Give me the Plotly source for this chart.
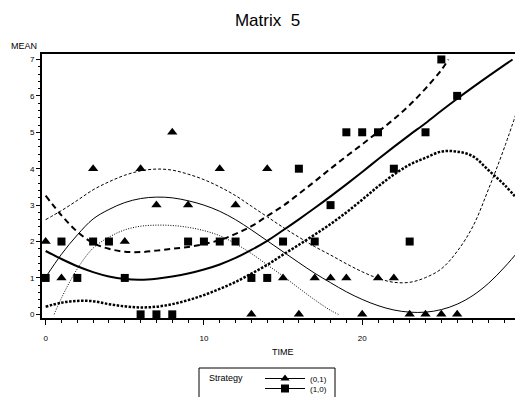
import plotly.graph_objects as go

# ---- data ----
# Strategy (0,1): triangles (visible points)
tri_t = [0, 1, 3, 5, 6, 7, 8, 9, 11, 12, 13, 14, 15, 16, 17, 18, 19, 20, 21, 22, 23, 24, 25, 26]
tri_y = [2, 1, 4, 2, 4, 3, 5, 3, 4, 3, 0, 4, 1, 0, 1, 1, 1, 0, 1, 1, 0, 0, 0, 0]

# Strategy (1,0): squares
sq_t = list(range(0, 27))
sq_y = [1, 2, 1, 2, 2, 1, 0, 0, 0, 2, 2, 2, 2, 1, 1, 2, 4, 2, 3, 5, 5, 5, 4, 2, 5, 7, 6]

# fitted curves
grid = list(range(0, 31))
tri_mean = [1.02, 1.65, 2.18, 2.62, 2.88, 3.07, 3.18, 3.22, 3.20, 3.12, 3.00, 2.83, 2.60, 2.32,
            2.02, 1.72, 1.42, 1.13, 0.87, 0.62, 0.41, 0.24, 0.12, 0.06, 0.06, 0.13, 0.28, 0.52,
            0.86, 1.30, 1.80]
tri_upper = [2.60, 2.85, 3.13, 3.42, 3.64, 3.82, 3.94, 3.99, 3.96, 3.85, 3.70, 3.50, 3.26, 2.97,
             2.68, 2.39, 2.12, 1.86, 1.63, 1.39, 1.17, 0.99, 0.88, 0.88, 1.01, 1.25, 1.73, 2.42,
             3.46, 4.60, 5.88]
tri_lower_t = [0.54, 1, 2, 3, 4, 5, 6, 7, 8, 9, 10, 11, 12, 13, 14, 15, 16, 17, 18, 18.5]
tri_lower = [0.0, 0.45, 1.25, 1.82, 2.12, 2.32, 2.42, 2.45, 2.44, 2.39, 2.30, 2.16, 1.94, 1.67,
             1.36, 1.05, 0.72, 0.40, 0.11, 0.0]

sq_mean_t = list(range(0, 30)) + [29.5]
sq_mean = [1.74, 1.52, 1.32, 1.16, 1.04, 0.97, 0.95, 0.98, 1.04, 1.12, 1.23, 1.37, 1.55, 1.77,
           2.02, 2.31, 2.61, 2.92, 3.24, 3.57, 3.91, 4.26, 4.60, 4.93, 5.25, 5.59, 5.92, 6.24,
           6.55, 6.85, 7.0]
sq_upper_t = list(range(0, 26)) + [25.45]
sq_upper = [3.26, 2.72, 2.27, 1.96, 1.80, 1.72, 1.71, 1.75, 1.80, 1.85, 1.93, 2.04, 2.21, 2.42,
            2.70, 2.98, 3.31, 3.65, 4.00, 4.34, 4.67, 5.01, 5.36, 5.75, 6.20, 6.71, 7.0]
sq_lower = [0.21, 0.32, 0.37, 0.36, 0.28, 0.22, 0.19, 0.21, 0.28, 0.39, 0.53, 0.70, 0.89, 1.12,
            1.36, 1.64, 1.91, 2.19, 2.48, 2.80, 3.15, 3.51, 3.84, 4.11, 4.30, 4.47, 4.47, 4.34,
            3.95, 3.55, 3.07]

x_ticks = [0, 10, 20, 30]
y_ticks = [0, 1, 2, 3, 4, 5, 6, 7]
legend_names = ["(0,1)", "(1,0)"]

FONT = "Liberation Sans, Arial, Helvetica, sans-serif"
BLACK = "#000000"
W, H = 523, 397
OFF = 8  # page body margin: the figure sits 8px right/down in the window
PL, PT, PR, PB = 42, 54, 523, 318  # plot area in window pixels


def px_paper_x(px):
    return (px - PL) / (PR - PL)


def px_paper_y(py):
    return (PB - py) / (PB - PT)


fig = go.Figure()


def curve(x, y, width, dash):
    fig.add_trace(go.Scatter(x=x, y=y, mode="lines", line=dict(color=BLACK, width=width, dash=dash,
                             shape="spline", smoothing=1.0), hoverinfo="skip", showlegend=False))


# thin curves: strategy (0,1)
curve(grid, tri_mean, 1, "solid")
curve(grid, tri_upper, 1, "3px,2px")
curve(tri_lower_t, tri_lower, 1, "1px,1.5px")
# thick curves: strategy (1,0)
curve(sq_mean_t, sq_mean, 2, "solid")
curve(sq_upper_t, sq_upper, 2, "6px,4px")
curve(grid, sq_lower, 2.5, "2.5px,1.5px")

fig.add_trace(go.Scatter(x=tri_t, y=tri_y, mode="markers", cliponaxis=False, showlegend=False,
                         marker=dict(symbol="triangle-up", size=9, color=BLACK)))
fig.add_trace(go.Scatter(x=sq_t, y=sq_y, mode="markers", cliponaxis=False, showlegend=False,
                         marker=dict(symbol="square", size=8, color=BLACK)))

# legend entries (one legend per row, so rows can sit as close as in the reference)
fig.add_trace(go.Scatter(x=[None], y=[None], mode="lines+markers", name=legend_names[0],
                         legend="legend", line=dict(color=BLACK, width=1),
                         marker=dict(symbol="triangle-up", size=8, color=BLACK)))
fig.add_trace(go.Scatter(x=[None], y=[None], mode="lines+markers", name=legend_names[1],
                         legend="legend2", line=dict(color=BLACK, width=1),
                         marker=dict(symbol="square", size=8, color=BLACK)))

leg_common = dict(xref="container", yref="container", xanchor="left", yanchor="top",
                  orientation="v", borderwidth=0, bgcolor="rgba(0,0,0,0)",
                  font=dict(family=FONT, size=8, color=BLACK), itemwidth=40)

fig.update_layout(
    width=W, height=H,
    margin=dict(l=PL - OFF, r=OFF, t=PT - OFF, b=H - (PB - OFF), autoexpand=False),
    paper_bgcolor="white", plot_bgcolor="white",
    font=dict(family=FONT, size=8, color=BLACK),
    title=dict(text="Matrix\u00a0 5", x=(267.5 - OFF) / W, xref="container", xanchor="center",
               y=1 - (20 - OFF) / H, yref="container", yanchor="middle",
               font=dict(family=FONT, size=17, color=BLACK)),
    showlegend=True,
    legend=dict(x=(260 - OFF) / W, y=1 - (364 - OFF) / H, **leg_common),
    legend2=dict(x=(260 - OFF) / W, y=1 - (374 - OFF) / H, **leg_common),
    xaxis=dict(range=[-0.23, 30.16], tickvals=x_ticks, ticktext=[str(v) for v in x_ticks],
               showgrid=False, zeroline=False, showline=True, linecolor=BLACK, linewidth=2,
               mirror=True, ticks="outside", ticklen=5, tickwidth=1, tickcolor=BLACK,
               ticklabelstandoff=6, automargin=False,
               minor=dict(dtick=1, tick0=0, ticks="outside", ticklen=3, tickwidth=1,
                          tickcolor=BLACK, showgrid=False),
               tickfont=dict(family=FONT, size=8, color=BLACK)),
    yaxis=dict(range=[-0.1, 7.15], tickvals=y_ticks, ticktext=[str(v) for v in y_ticks],
               showgrid=False, zeroline=False, showline=True, linecolor=BLACK, linewidth=2,
               ticks="outside", ticklen=4, tickwidth=1, tickcolor=BLACK, automargin=False,
               minor=dict(dtick=0.2, tick0=0, ticks="outside", ticklen=2, tickwidth=1,
                          tickcolor=BLACK, showgrid=False),
               tickfont=dict(family=FONT, size=8, color=BLACK)),
    shapes=[
        dict(type="rect", xref="paper", yref="paper",
             x0=px_paper_x(199), x1=px_paper_x(335), y0=px_paper_y(368), y1=px_paper_y(410),
             line=dict(color=BLACK, width=1), fillcolor="rgba(0,0,0,0)", layer="above"),
    ],
    annotations=[
        dict(text="MEAN", xref="paper", yref="paper", x=px_paper_x(9), y=px_paper_y(45.7),
             xanchor="left", yanchor="middle", showarrow=False,
             font=dict(family=FONT, size=9, color=BLACK)),
        dict(text="TIME", xref="paper", yref="paper", x=px_paper_x(283), y=px_paper_y(352),
             xanchor="center", yanchor="middle", showarrow=False,
             font=dict(family=FONT, size=9, color=BLACK)),
        dict(text="Strategy", xref="paper", yref="paper", x=px_paper_x(207), y=px_paper_y(378),
             xanchor="left", yanchor="middle", showarrow=False,
             font=dict(family=FONT, size=9, color=BLACK)),
    ],
)

fig.write_html("out.html")
